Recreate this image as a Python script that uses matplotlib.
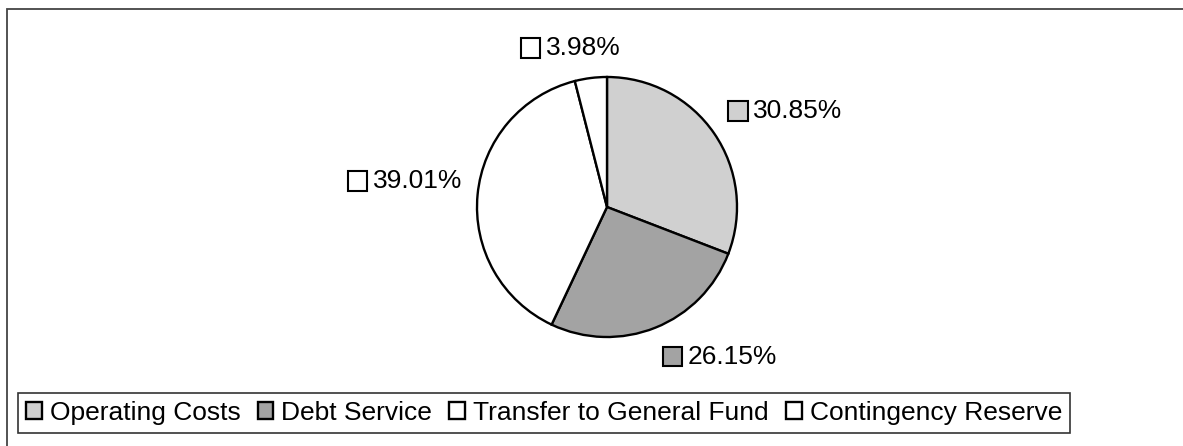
import matplotlib
matplotlib.use('Agg')
import matplotlib.pyplot as plt
import numpy as np
from matplotlib.patches import Rectangle
from matplotlib.offsetbox import AnnotationBbox, HPacker, DrawingArea, TextArea

plt.rcParams['font.family'] = ['Liberation Sans', 'DejaVu Sans']

# data
categories = ['Operating Costs', 'Debt Service', 'Transfer to General Fund', 'Contingency Reserve']
shares = [30.85, 26.15, 39.01, 3.98]
colors = ['#d0d0d0', '#a3a3a3', '#ffffff', '#ffffff']

W, H = 1183, 446
fig = plt.figure(figsize=(W / 100, H / 100), dpi=100)

# outer chart border (only top and left show in the crop)
fig.add_artist(Rectangle((7 / W, -0.2), 2, 1.2 - 9 / H, transform=fig.transFigure,
                         fill=False, edgecolor='#444444', linewidth=1.3))

# pie axes: centre (607,207), radius 130 px
cx, cy, r = 607, 207, 130
ax = fig.add_axes([(cx - r) / W, (H - cy - r) / H, 2 * r / W, 2 * r / H])
wedges, _ = ax.pie(shares, colors=colors, startangle=90, counterclock=False,
                   wedgeprops=dict(edgecolor='black', linewidth=1.7))
ax.set_xlim(-1, 1)
ax.set_ylim(-1, 1)
ax.set_aspect('auto')
ax.axis('off')

# data labels with small square keys
fs = 19
for w, val, col in zip(wedges, shares, colors):
    ang = np.deg2rad((w.theta1 + w.theta2) / 2)
    c, s = np.cos(ang), np.sin(ang)
    xy = (1.12 * c, 1.14 * s)
    da = DrawingArea(16, 16, 0, 0)
    da.add_artist(Rectangle((1, 1), 14, 14, facecolor=col, edgecolor='black', linewidth=1.5))
    ta = TextArea('%.2f%%' % val, textprops=dict(fontsize=fs, color='black'))
    box = HPacker(children=[da, ta], pad=0, sep=3, align='center')
    xal = float(np.clip(0.5 - 1.5 * c, 0, 1))
    yal = 0.0 if s > 0 else 1.0
    ab = AnnotationBbox(box, xy, xycoords='data', box_alignment=(xal, yal),
                        frameon=False, pad=0, annotation_clip=False)
    ax.add_artist(ab)

# legend
leg = fig.legend(wedges, categories, ncol=4, loc='lower left',
                 bbox_to_anchor=(18 / W, (H - 433) / H),
                 fontsize=fs, frameon=True, fancybox=False, edgecolor='black',
                 handlelength=0.6, handleheight=0.6, handletextpad=0.3,
                 columnspacing=0.65, borderpad=0.3, borderaxespad=0)
leg.get_frame().set_linewidth(1.2)

fig.savefig('out.png', dpi=100, facecolor='white')
